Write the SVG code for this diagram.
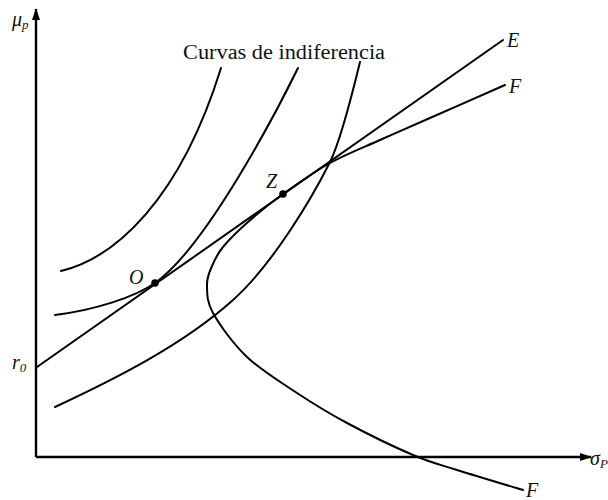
<svg xmlns="http://www.w3.org/2000/svg" width="608" height="500" viewBox="0 0 608 500">
<style>
.ax{stroke:#000;stroke-width:2.4;fill:none}
.cv{stroke:#000;stroke-width:2;fill:none;stroke-linecap:round}
.lb{font-family:"Liberation Serif","Times New Roman",serif;font-size:20px;fill:#111}
.it{font-style:italic}
.sub{font-size:13px}
</style>
<defs>
<marker id="arr" viewBox="0 0 12 8" refX="11" refY="4" markerWidth="12" markerHeight="8" markerUnits="userSpaceOnUse" orient="auto">
<path d="M0,0 L12,4 L0,8 Z" fill="#000"/>
</marker>
</defs>
<rect width="608" height="500" fill="#fff"/>
<g id="axes">
<line class="ax" x1="36" y1="457" x2="36" y2="9" marker-end="url(#arr)"/>
<line class="ax" x1="36" y1="457" x2="591" y2="457" marker-end="url(#arr)"/>
</g>
<g id="connectors">
<path id="lineE" class="cv" d="M37,367 L503,40"/>
<path id="frontierF" class="cv" d="M523,490 C512,486.7 475.3,475.8 457,470 C438.7,464.2 431.3,462.8 413,455 C394.7,447.2 366.3,433.3 347,423 C327.7,412.7 313.7,404 297,393 C280.3,382 261,370.3 247,357 C233,343.7 219.7,325 213,313 C206.3,301 207.2,292.8 207,285 C206.8,277.2 209.3,272.3 212,266 C214.7,259.7 217,254.3 223,247 C229,239.7 238,230.8 248,222 C258,213.2 269.3,203.8 283,194 C296.7,184.2 313.8,172 330,163 C346.2,154 363.3,147.5 380,140 C396.7,132.5 409.2,127.2 430,118 C450.8,108.8 492.5,90.5 505,85"/>
<path id="ic1" class="cv" d="M61,271 C115,258 180,200 221,68"/>
<path id="ic2" class="cv" d="M55,315 C95,310 135,297 155,283 C205,248 275,115 298,68"/>
<path id="ic3" class="cv" d="M55,407 C115,379 183,345 233,300 C273,264 312,198 330,162 C340,142 352,95 360,62"/>
</g>
<g id="pointO">
<circle cx="155" cy="283" r="3.8" fill="#000"/>
<text class="lb it" x="129" y="284">O</text>
</g>
<g id="pointZ">
<circle cx="283" cy="194" r="3.8" fill="#000"/>
<text class="lb it" x="266" y="188">Z</text>
</g>
<g id="labels">
<text class="lb" x="183" y="59" textLength="202" lengthAdjust="spacingAndGlyphs">Curvas de indiferencia</text>
<text class="lb it" x="507" y="47">E</text>
<text class="lb it" x="509" y="93">F</text>
<text class="lb it" x="526" y="497">F</text>
<text class="lb it" x="12" y="26">μ<tspan class="sub" dy="3">p</tspan></text>
<text class="lb it" x="12" y="369">r<tspan class="sub" dy="3">0</tspan></text>
<text class="lb it" x="590" y="465">σ<tspan class="sub" dy="3">P</tspan></text>
</g>
</svg>
